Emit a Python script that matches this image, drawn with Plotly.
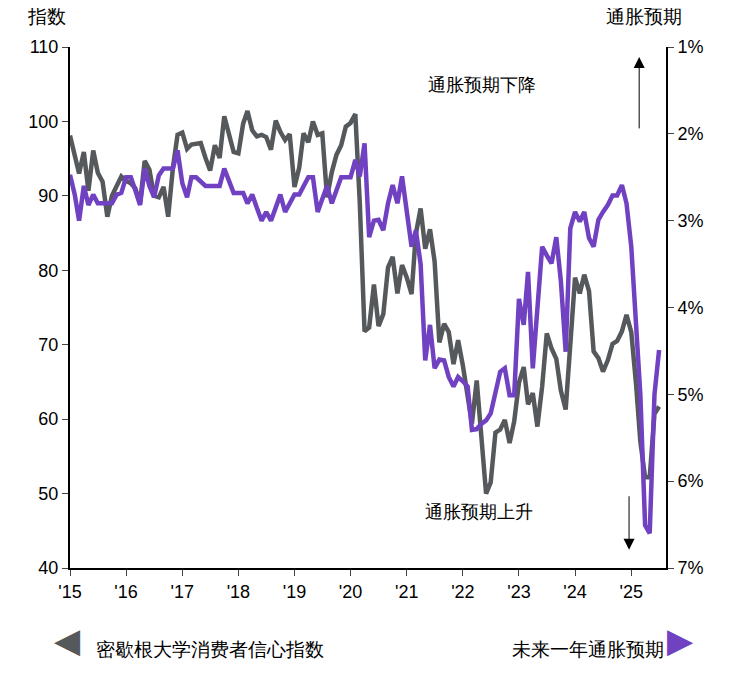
import pandas as pd
import plotly.graph_objects as go

# monthly, Jan 2015 - Jul 2025
sentiment = [
    98.1, 95.4, 93.0, 95.9, 90.7, 96.1, 93.1, 91.9, 87.2, 90.0, 91.3, 92.6,
    92.0, 91.7, 91.0, 89.0, 94.7, 93.5, 90.0, 89.8, 91.2, 87.2, 93.8, 98.2,
    98.5, 96.3, 96.9, 97.0, 97.1, 95.1, 93.4, 96.8, 95.1, 100.7, 98.5, 95.9,
    95.7, 99.7, 101.4, 98.8, 98.0, 98.2, 97.9, 96.2, 100.1, 98.6, 97.5, 98.3,
    91.2, 93.8, 98.4, 97.2, 100.0, 98.2, 98.4, 89.8, 93.2, 95.5, 96.8, 99.3,
    99.8, 101.0, 89.1, 71.8, 72.3, 78.1, 72.5, 74.1, 80.4, 81.8, 76.9, 80.7,
    79.0, 76.8, 84.9, 88.3, 82.9, 85.5, 81.2, 70.3, 72.8, 71.7, 67.4, 70.6,
    67.2, 62.8, 59.4, 65.2, 58.4, 50.0, 51.5, 58.2, 58.6, 59.9, 56.8, 59.7,
    64.9, 67.0, 62.0, 63.5, 59.0, 64.4, 71.5, 69.5, 68.1, 63.8, 61.3, 69.7,
    79.0, 76.9, 79.4, 77.2, 69.1, 68.2, 66.4, 67.9, 70.1, 70.5, 71.8, 74.0,
    71.7, 64.7, 57.0, 52.2, 52.2, 60.7, 61.7,
]
inflation_exp = [
    2.47, 2.7, 3.0, 2.6, 2.82, 2.7, 2.8, 2.8, 2.8, 2.8, 2.7, 2.68,
    2.5, 2.5, 2.65, 2.82, 2.4, 2.6, 2.73, 2.48, 2.4, 2.4, 2.4, 2.19,
    2.57, 2.73, 2.5, 2.5, 2.55, 2.6, 2.6, 2.6, 2.6, 2.4, 2.55, 2.68,
    2.68, 2.68, 2.8, 2.7, 2.85, 3.0, 2.9, 3.0, 2.85, 2.7, 2.9, 2.8,
    2.7, 2.7, 2.6, 2.5, 2.5, 2.9, 2.75, 2.6, 2.8, 2.65, 2.5, 2.5,
    2.5, 2.3, 2.49, 2.11, 3.19, 3.0, 2.99, 3.11, 2.8, 2.59, 2.8, 2.49,
    2.9, 3.3, 3.11, 3.5, 4.61, 4.2, 4.7, 4.6, 4.61, 4.8, 4.91, 4.8,
    4.85, 4.91, 5.41, 5.4, 5.34, 5.3, 5.22, 5.0, 4.74, 4.7, 5.01, 5.01,
    3.9, 4.2, 3.59, 4.7, 4.0, 3.3, 3.4, 3.49, 3.19, 3.7, 4.51, 3.09,
    2.9, 3.01, 2.9, 3.2, 3.3, 2.99, 2.9, 2.82, 2.71, 2.71, 2.59, 2.8,
    3.3, 4.3, 5.0, 6.51, 6.6, 5.0, 4.49,
]
dates = pd.date_range("2015-01-01", periods=len(sentiment), freq="MS")
years = [f"{y}-01-01" for y in range(2015, 2026)]
year_labels = [f"'{y % 100}" for y in range(2015, 2026)]
left_ticks = [40, 50, 60, 70, 80, 90, 100, 110]
right_ticks = [1, 2, 3, 4, 5, 6, 7]

GRAY = "#55595c"
PURPLE = "#7041c0"
FONT = "Liberation Sans, Arial, sans-serif"

fig = go.Figure()
fig.add_trace(go.Scatter(x=dates, y=sentiment, mode="lines",
                         line=dict(color=GRAY, width=4.5), name="密歇根大学消费者信心指数"))
fig.add_trace(go.Scatter(x=dates, y=inflation_exp, mode="lines", yaxis="y2",
                         line=dict(color=PURPLE, width=4.5), name="未来一年通胀预期"))

fig.update_layout(
    width=750, height=683,
    margin=dict(l=62, r=92, t=39, b=123),
    plot_bgcolor="white", paper_bgcolor="white",
    showlegend=False,
    font=dict(family=FONT, size=18, color="black"),
    xaxis=dict(range=["2015-01-01", "2025-08-15"], tickvals=years, ticktext=year_labels,
               showgrid=False, ticks="outside", ticklen=6, showline=True,
               linecolor="black", linewidth=2, zeroline=False),
    yaxis=dict(range=[40, 110], tickvals=left_ticks, showgrid=False, ticks="outside",
               ticklen=6, showline=True, linecolor="black", linewidth=2, zeroline=False),
    yaxis2=dict(range=[7, 1], overlaying="y", side="right", tickvals=right_ticks,
                ticktext=[f"{v}%" for v in right_ticks], showgrid=False, ticks="outside",
                ticklen=6, showline=True, linecolor="black", linewidth=2, zeroline=False),
)

ann = [
    dict(x=-0.075, y=1.0, xref="paper", yref="paper", yshift=18, text="指数",
         showarrow=False, xanchor="left", yanchor="bottom", font=dict(size=19)),
    dict(x=1.03, y=1.0, xref="paper", yref="paper", yshift=18, text="通胀预期",
         showarrow=False, xanchor="right", yanchor="bottom", font=dict(size=19)),
    dict(x=0.785, y=0.95, xref="paper", yref="paper", text="通胀预期下降",
         showarrow=False, font=dict(size=18)),
    dict(x=0.78, y=0.085, xref="paper", yref="paper", text="通胀预期上升",
         showarrow=False, font=dict(size=18)),
    dict(x=0.955, y=0.981, xref="paper", yref="paper", ax=0, ay=73, text="",
         showarrow=True, arrowhead=2, arrowsize=2.2, arrowwidth=1, arrowcolor="black"),
    dict(x=0.938, y=0.035, xref="paper", yref="paper", ax=0, ay=-55, text="",
         showarrow=True, arrowhead=2, arrowsize=2.2, arrowwidth=1, arrowcolor="black"),
    dict(x=-0.03, y=-0.18, xref="paper", yref="paper", text="◀",
         showarrow=False, font=dict(size=34, color=GRAY, family="DejaVu Sans")),
    dict(x=0.04, y=-0.18, xref="paper", yref="paper", text="密歇根大学消费者信心指数",
         showarrow=False, xanchor="left", font=dict(size=19)),
    dict(x=1.0, y=-0.18, xref="paper", yref="paper", text="未来一年通胀预期",
         showarrow=False, xanchor="right", font=dict(size=19)),
    dict(x=1.05, y=-0.18, xref="paper", yref="paper", text="▶",
         showarrow=False, font=dict(size=34, color=PURPLE, family="DejaVu Sans")),
]
fig.update_layout(annotations=ann)

fig.write_html("out.html")
